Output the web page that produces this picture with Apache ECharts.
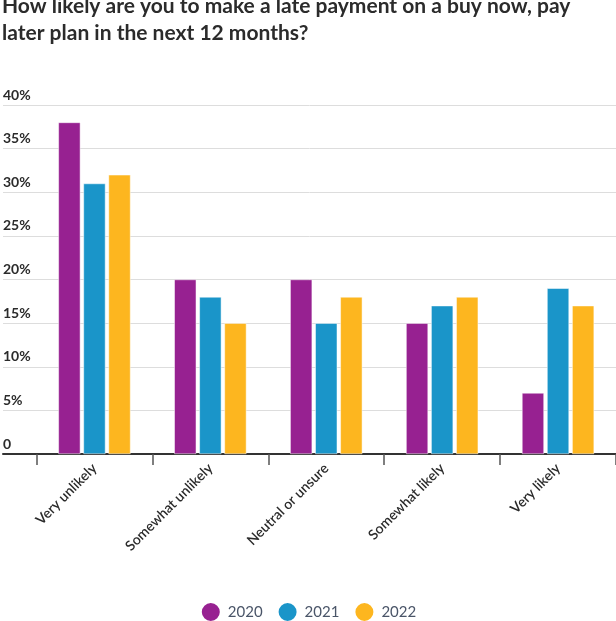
<!DOCTYPE html>
<html><head><meta charset="utf-8">
<script src="https://cdn.jsdelivr.net/npm/echarts@6/dist/echarts.min.js"></script>
<style>html,body{margin:0;padding:0;background:#fff}#c{width:616px;height:621px}</style>
</head><body><div id="c"></div>
<script>
const categories = ['Very unlikely', 'Somewhat unlikely', 'Neutral or unsure', 'Somewhat likely', 'Very likely'];
const years = ['2020', '2021', '2022'];
const values2020 = [38, 20, 20, 15, 7];
const values2021 = [31, 18, 15, 17, 19];
const values2022 = [32, 15, 18, 18, 17];
const colors = ['#972191', '#1a95c9', '#fdb61f'];
const titleLine1 = 'How likely are you to make a late payment on a buy now, pay';
const titleLine2 = 'later plan in the next 12 months?';

const chart = echarts.init(document.getElementById('c'));
const seriesData = [values2020, values2021, values2022];
const titleStyle = { fontFamily: 'Lato', fontWeight: 'bold', fontSize: 21, fill: '#2b2b2b', verticalAlign: 'top' };
chart.setOption({
  animation: false,
  color: colors,
  textStyle: { fontFamily: 'Lato' },
  graphic: [
    { type: 'text', x: 2, y: -4, silent: true, style: Object.assign({ text: titleLine1 }, titleStyle) },
    { type: 'text', x: 2, y: 23, silent: true, style: Object.assign({ text: titleLine2 }, titleStyle) }
  ],
  legend: {
    data: years, bottom: -7, left: 'center', icon: 'circle',
    itemWidth: 20, itemHeight: 20, itemGap: 14,
    textStyle: { fontFamily: 'Lato', fontSize: 15, color: '#4a5568', padding: [0, 0, 0, 2] }
  },
  grid: [
    { left: 3, right: 0, top: 105, bottom: 167, containLabel: false },
    { left: 36.5, right: -5.5, top: 105, bottom: 167, containLabel: false }
  ],
  xAxis: [
    { type: 'value', gridIndex: 0, min: 0, max: 1, axisLabel: { show: false }, axisTick: { show: false },
      splitLine: { show: false }, axisLine: { show: true, lineStyle: { color: '#333', width: 2 } } },
    { type: 'category', gridIndex: 1, data: categories,
      axisLine: { show: false },
      axisTick: { show: true, length: 11, lineStyle: { color: '#555', width: 1.5 } },
      axisLabel: { rotate: 45, margin: 12, fontSize: 14, fontWeight: 600, color: '#2b2b2b', fontFamily: 'Lato' } }
  ],
  yAxis: [
    { type: 'value', gridIndex: 0, min: 0, max: 40, interval: 5,
      axisLine: { show: false }, axisTick: { show: false },
      splitLine: { lineStyle: { color: '#dddddd', width: 1 } },
      axisLabel: { inside: true, margin: 0, verticalAlign: 'bottom', padding: [0, 0, 3, 0],
        fontSize: 14, fontWeight: 'bold', color: '#2b2b2b', fontFamily: 'Lato',
        formatter: v => v === 0 ? '0' : v + '%' } },
    { type: 'value', gridIndex: 1, min: 0, max: 40, interval: 5, show: false, splitLine: { show: false } }
  ],
  series: years.map((y, i) => ({
    name: y, type: 'bar', xAxisIndex: 1, yAxisIndex: 1,
    data: seriesData[i], barWidth: 22, barGap: '14%',
    itemStyle: { color: colors[i], borderColor: '#fff', borderWidth: 0.5 }
  }))
});
</script></body></html>
